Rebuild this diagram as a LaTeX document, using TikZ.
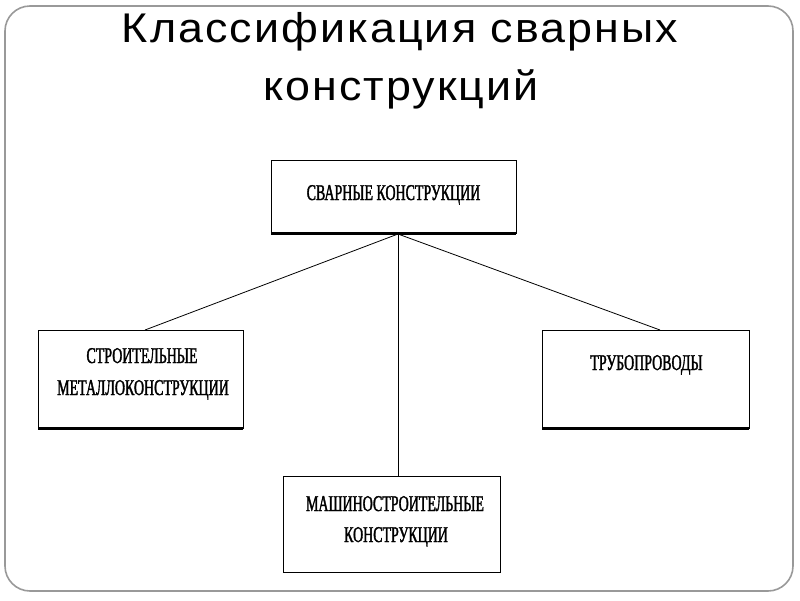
\documentclass[tikz,border=0pt]{standalone}
\usepackage{fontspec}
\setmainfont{Liberation Sans}
\newfontfamily\titlefont[LetterSpace=5,FakeStretch=1.08]{Liberation Sans}
\newfontfamily\boxfont[FakeStretch=0.62,FakeBold=1.5]{Liberation Serif}
\begin{document}
\begin{tikzpicture}[x=1pt,y=-1pt,
  boxrect/.style={draw=black,line width=1pt,fill=white},
  boxshadow/.style={line width=3pt},
  boxtext/.style={anchor=base,inner sep=0pt,font=\boxfont\fontsize{22.5}{27}\selectfont},
  titletext/.style={anchor=base,inner sep=0pt,font=\titlefont\fontsize{41.5}{48}\selectfont},
  link/.style={draw=black,line width=0.8pt}]
\useasboundingbox (0,0) rectangle (800,600);
\draw[gray!80,line width=1.6pt,rounded corners=25pt] (5,6) rectangle (793,591);
\node[titletext] (title1) at (400,42) {Классификация сварных};
\node[titletext] (title2) at (401,100) {конструкций};
% boxes
\path[boxrect] (271,160) rectangle (516,233);
\draw[boxshadow] (271,233) -- (516,233);
\node[boxtext] (top) at (393.5,200) {СВАРНЫЕ КОНСТРУКЦИИ};
\path[boxrect] (38,330) rectangle (243,428);
\draw[boxshadow] (38,428) -- (243,428);
\node[boxtext] (left1) at (142,363) {СТРОИТЕЛЬНЫЕ};
\node[boxtext] (left2) at (143,395) {МЕТАЛЛОКОНСТРУКЦИИ};
\path[boxrect] (542,330) rectangle (749,428);
\draw[boxshadow] (542,428) -- (749,428);
\node[boxtext] (right) at (646.5,370) {ТРУБОПРОВОДЫ};
\path[boxrect] (283,476) rectangle (500,572);
\node[boxtext] (bottom1) at (395,511) {МАШИНОСТРОИТЕЛЬНЫЕ};
\node[boxtext] (bottom2) at (396,542) {КОНСТРУКЦИИ};
\coordinate (hub) at (398,234);
\coordinate (lt) at (145,330);
\coordinate (rt) at (660,330);
\coordinate (bt) at (398,476);
\draw[link] (hub) -- (lt);
\draw[link] (hub) -- (rt);
\draw[link] (hub) -- (bt);
\end{tikzpicture}
\end{document}
